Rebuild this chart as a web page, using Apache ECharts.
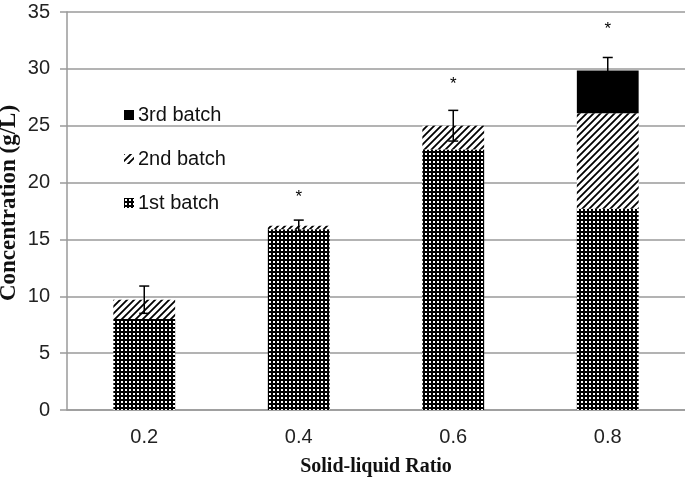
<!DOCTYPE html>
<html>
<head>
<meta charset="utf-8">
<script src="https://cdn.jsdelivr.net/npm/echarts@6/dist/echarts.min.js"></script>
<style>html,body{margin:0;padding:0;background:#fff;}#c{width:685px;height:478px;}</style>
</head>
<body>
<div id="c"></div>
<script>
const categories = ['0.2', '0.4', '0.6', '0.8'];
const batch1 = [8.0, 15.9, 22.9, 17.7];
const batch2 = [1.7, 0.3, 2.1, 8.4];
const batch3 = [0, 0, 0, 3.75];
const errors = [1.2, 0.5, 1.35, 1.15];
const stars = [null, 18.7, 28.6, 33.5];
const yTicks = [0, 5, 10, 15, 20, 25, 30, 35];

function dotPattern() {
  const c = document.createElement('canvas');
  c.width = 4; c.height = 4;
  const g = c.getContext('2d');
  g.fillStyle = '#000'; g.fillRect(0, 0, 4, 4);
  g.fillStyle = '#fff'; g.fillRect(1, 1, 2, 2);
  return { image: c, repeat: 'repeat' };
}
function hatchPattern() {
  const c = document.createElement('canvas');
  c.width = 7; c.height = 7;
  const g = c.getContext('2d');
  g.fillStyle = '#fff'; g.fillRect(0, 0, 7, 7);
  g.strokeStyle = '#000'; g.lineWidth = 1.8;
  g.beginPath();
  g.moveTo(-1, 8); g.lineTo(8, -1);
  g.moveTo(-1, 1); g.lineTo(1, -1);
  g.moveTo(6, 8); g.lineTo(8, 6);
  g.stroke();
  return { image: c, repeat: 'repeat' };
}

const totals = batch1.map((v, i) => v + batch2[i] + batch3[i]);
const errData = totals.map((t, i) => [i, t, errors[i]]);
const starData = stars.map((s, i) => [i, s]).filter(d => d[1] !== null);

const chart = echarts.init(document.getElementById('c'), null, { renderer: 'canvas' });
const gray = '#9a9a9a';
chart.setOption({
  animation: false,
  backgroundColor: '#fff',
  grid: { left: 67, right: 0, top: 12, bottom: 68, containLabel: false, outerBoundsMode: 'none' },
  legend: {
    orient: 'vertical',
    left: 119, top: 100,
    itemWidth: 10, itemHeight: 10, itemGap: 24,
    icon: 'rect',
    data: ['3rd batch', '2nd batch', '1st batch'],
    textStyle: { fontFamily: 'Liberation Sans', fontSize: 20, color: '#111', padding: [0, 0, 0, -1] }
  },
  xAxis: {
    type: 'category',
    data: categories,
    name: 'Solid-liquid Ratio',
    nameLocation: 'middle',
    nameGap: 47,
    nameMoveOverlap: false,
    nameTextStyle: { fontFamily: 'Liberation Serif', fontWeight: 'bold', fontSize: 20, color: '#111' },
    axisLine: { lineStyle: { color: gray, width: 1.5 } },
    axisTick: { show: false },
    axisLabel: { fontFamily: 'Liberation Sans', fontSize: 20, color: '#222', margin: 17 }
  },
  yAxis: {
    type: 'value',
    min: 0, max: 35, interval: 5,
    name: 'Concentration (g/L)',
    nameLocation: 'middle',
    nameGap: 46,
    nameMoveOverlap: false,
    nameTextStyle: { fontFamily: 'Liberation Serif', fontWeight: 'bold', fontSize: 23, color: '#111', padding: [0, 0, 0, 16] },
    axisLine: { show: true, lineStyle: { color: gray, width: 1.5 } },
    axisTick: { show: true, length: 7, lineStyle: { color: gray, width: 1.5 } },
    axisLabel: {
      fontFamily: 'Liberation Sans', fontSize: 20, color: '#222', margin: 17,
      formatter: v => yTicks.includes(v) ? String(v) : ''
    },
    splitLine: { lineStyle: { color: gray, width: 1.5 } }
  },
  series: [
    { name: '1st batch', type: 'bar', stack: 's', barWidth: '40%', data: batch1,
      itemStyle: { color: dotPattern() } },
    { name: '2nd batch', type: 'bar', stack: 's', barWidth: '40%', data: batch2,
      itemStyle: { color: hatchPattern() } },
    { name: '3rd batch', type: 'bar', stack: 's', barWidth: '40%', data: batch3,
      itemStyle: { color: '#000' } },
    { type: 'custom', data: errData, z: 10,
      renderItem: function (params, api) {
        const x = api.value(0), v = api.value(1), e = api.value(2);
        const top = api.coord([x, v + e]);
        const bot = api.coord([x, v - e]);
        const hw = 5;
        return { type: 'group', children: [
          { type: 'line', shape: { x1: top[0], y1: top[1], x2: bot[0], y2: bot[1] }, style: { stroke: '#000', lineWidth: 1.5 } },
          { type: 'line', shape: { x1: top[0] - hw, y1: top[1], x2: top[0] + hw, y2: top[1] }, style: { stroke: '#000', lineWidth: 1.5 } },
          { type: 'line', shape: { x1: bot[0] - hw, y1: bot[1], x2: bot[0] + hw, y2: bot[1] }, style: { stroke: '#000', lineWidth: 1.5 } }
        ] };
      }
    },
    { type: 'custom', data: starData, z: 10,
      renderItem: function (params, api) {
        const p = api.coord([api.value(0), api.value(1)]);
        return { type: 'text', x: p[0], y: p[1],
          style: { text: '*', fontFamily: 'Liberation Sans', fontSize: 17, fill: '#000', align: 'center', verticalAlign: 'middle' } };
      }
    }
  ]
});
</script>
</body>
</html>
